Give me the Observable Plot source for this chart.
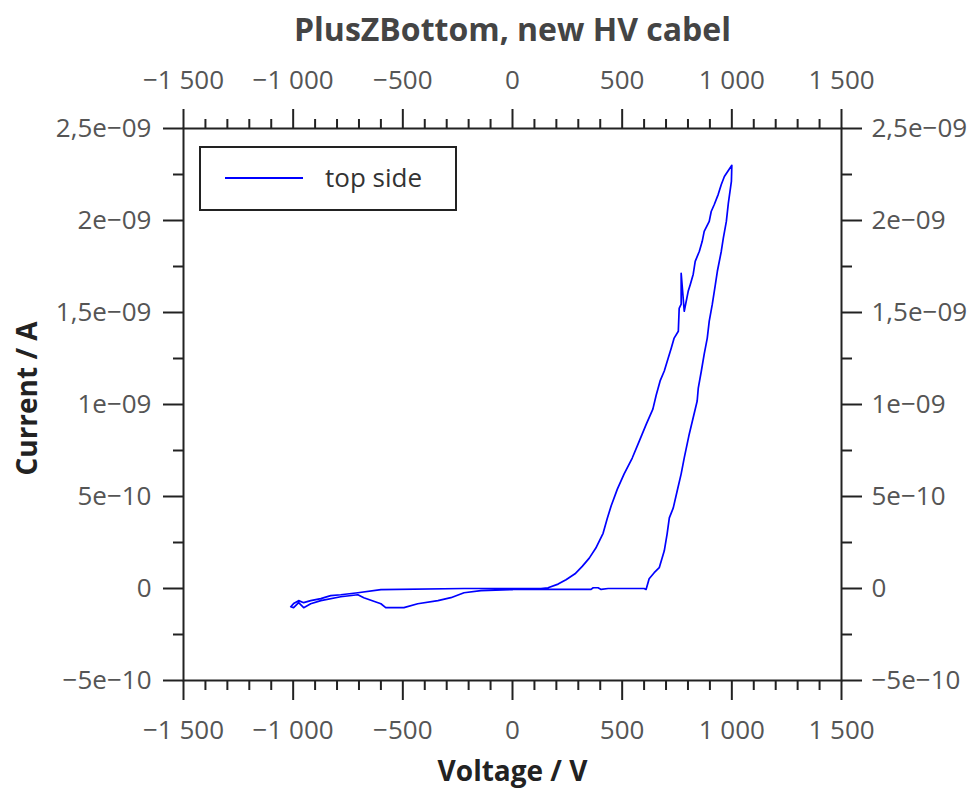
<!DOCTYPE html>
<html><head><meta charset="utf-8">
<script src="https://cdn.jsdelivr.net/npm/d3@7"></script>
<script src="https://cdn.jsdelivr.net/npm/@observablehq/plot@0.6"></script>
<style>
body{margin:0;background:#fff;}
#chart{position:relative;width:974px;height:789px;}
</style>
</head><body><div id="chart"></div>
<script>
// ---- text ----
const chartTitle = "PlusZBottom, new HV cabel";
const xLabel = "Voltage / V";
const yLabel = "Current / A";
const seriesName = "top side";

// ---- ticks ----
const xTicks = [-1500, -1000, -500, 0, 500, 1000, 1500];
const xTickLabels = ["\u22121\u00A0500", "\u22121\u00A0000", "\u2212500", "0", "500", "1\u00A0000", "1\u00A0500"];
const xMinorTicks = [-1400,-1300,-1200,-1100,-900,-800,-700,-600,-400,-300,-200,-100,100,200,300,400,600,700,800,900,1100,1200,1300,1400];
const yTicks = [-5e-10, 0, 5e-10, 1e-9, 1.5e-9, 2e-9, 2.5e-9];
const yTickLabels = ["\u22125e\u221210", "0", "5e\u221210", "1e\u221209", "1,5e\u221209", "2e\u221209", "2,5e\u221209"];
const yMinorTicks = [-2.5e-10, 2.5e-10, 7.5e-10, 1.25e-9, 1.75e-9, 2.25e-9];

// ---- series (voltage in V, current in nA, in measurement order) ----
const voltage = [
  0, 150, 358, 368, 390, 404, 436, 600, 609,
  623, 646, 669, 692, 705, 715, 733, 751, 769, 783, 806, 842, 847, 861, 874, 888, 897, 911, 925, 934, 952, 961, 975, 984, 998, 1000,
  966, 952, 938, 920, 906, 897, 874, 865, 852, 833, 824, 811, 801, 783, 769, 769, 760, 756, 737, 724, 710, 692, 673, 655, 640, 610, 578, 546, 509, 478, 450, 432, 413, 380, 350, 318, 285, 244, 208, 162, 130,
  0, -221, -600, -705, -783, -829, -874, -920, -952, -975, -998, -1011,
  -998, -975, -952, -920, -874, -783, -705, -678, -600, -578, -495, -432, -340, -281, -221, -144, 0
];
const currentNA = [
  -0.005, -0.005, -0.005, 0.004, 0.004, -0.005, 0, 0, -0.005,
  0.053, 0.086, 0.113, 0.205, 0.297, 0.384, 0.438, 0.531, 0.623, 0.710, 0.840, 1.019, 1.089, 1.182, 1.274, 1.361, 1.453, 1.545, 1.653, 1.724, 1.833, 1.903, 1.995, 2.093, 2.212, 2.300,
  2.239, 2.196, 2.142, 2.087, 2.049, 1.995, 1.941, 1.887, 1.833, 1.778, 1.708, 1.654, 1.615, 1.507, 1.713, 1.545, 1.523, 1.398, 1.361, 1.307, 1.253, 1.182, 1.128, 1.050, 0.975, 0.893, 0.801, 0.709, 0.623, 0.540, 0.450, 0.380, 0.300, 0.220, 0.165, 0.120, 0.080, 0.048, 0.024, 0.004, 0,
  0, 0, -0.006, -0.023, -0.034, -0.039, -0.055, -0.066, -0.077, -0.066, -0.082, -0.099,
  -0.104, -0.077, -0.104, -0.083, -0.066, -0.045, -0.034, -0.050, -0.083, -0.104, -0.104, -0.083, -0.066, -0.050, -0.023, -0.012, -0.006
];

const data = voltage.map((v, i) => ({V: v, I: currentNA[i] * 1e-9}));

const fx = d => xTickLabels[xTicks.indexOf(d)];
const fy = d => yTickLabels[yTicks.findIndex(t => Math.abs(t - d) < 1e-15)];

const FONT = "'Open Sans', sans-serif";
const tickColor = "#222";
const labelColor = "#555";
const TS = 26;

const major = {stroke: tickColor, strokeWidth: 2, fill: labelColor, tickSize: 20, label: null, fontSize: TS};
const minor = {stroke: tickColor, strokeWidth: 2, fill: "none", tickSize: 10, label: null};

const plot = Plot.plot({
  width: 974,
  height: 789,
  marginLeft: 183,
  marginRight: 133,
  marginTop: 128,
  marginBottom: 109,
  style: {fontFamily: FONT, fontSize: TS + "px", background: "#fff"},
  x: {domain: [-1500, 1500]},
  y: {domain: [-5e-10, 2.5e-9]},
  marks: [
    Plot.line(data, {x: "V", y: "I", stroke: "#0000ff", strokeWidth: 1.7}),
    Plot.axisX(xTicks, {...major, anchor: "bottom", tickPadding: 20, tickFormat: fx}),
    Plot.axisX(xTicks, {...major, anchor: "top", tickPadding: 20, tickFormat: fx}),
    Plot.axisX(xMinorTicks, {...minor, anchor: "bottom"}),
    Plot.axisX(xMinorTicks, {...minor, anchor: "top"}),
    Plot.axisY(yTicks, {...major, anchor: "left", tickPadding: 12, tickFormat: fy}),
    Plot.axisY(yTicks, {...major, anchor: "right", tickPadding: 10, tickFormat: fy}),
    Plot.axisY(yMinorTicks, {...minor, anchor: "left"}),
    Plot.axisY(yMinorTicks, {...minor, anchor: "right"}),
    Plot.frame({stroke: tickColor, strokeWidth: 2}),
    Plot.text([chartTitle], {frameAnchor: "top", lineAnchor: "middle", textAnchor: "middle", dy: -98, text: d => d, fontSize: 32, fontWeight: "bold", fill: "#444"}),
    Plot.text([xLabel], {frameAnchor: "bottom", lineAnchor: "middle", textAnchor: "middle", dy: 92, text: d => d, fontSize: 28, fontWeight: "bold", fill: "#222"}),
    Plot.text([yLabel], {frameAnchor: "left", lineAnchor: "middle", textAnchor: "middle", dx: -155, dy: -6, rotate: -90, text: d => d, fontSize: 28, fontWeight: "bold", fill: "#222"})
  ]
});

document.getElementById("chart").appendChild(plot);

// legend box
const svg = d3.select(plot);
const lg = svg.append("g").attr("class", "legend");
lg.append("rect").attr("x", 200).attr("y", 147).attr("width", 256).attr("height", 63)
  .attr("fill", "#fff").attr("stroke", tickColor).attr("stroke-width", 2);
lg.append("line").attr("x1", 225).attr("x2", 303).attr("y1", 178).attr("y2", 178)
  .attr("stroke", "#0000ff").attr("stroke-width", 2);
lg.append("text").attr("x", 325).attr("y", 178).attr("dy", "0.35em").attr("text-anchor", "start")
  .attr("font-family", FONT).attr("font-size", 26).attr("fill", "#333").text(seriesName);
</script>
</body></html>
